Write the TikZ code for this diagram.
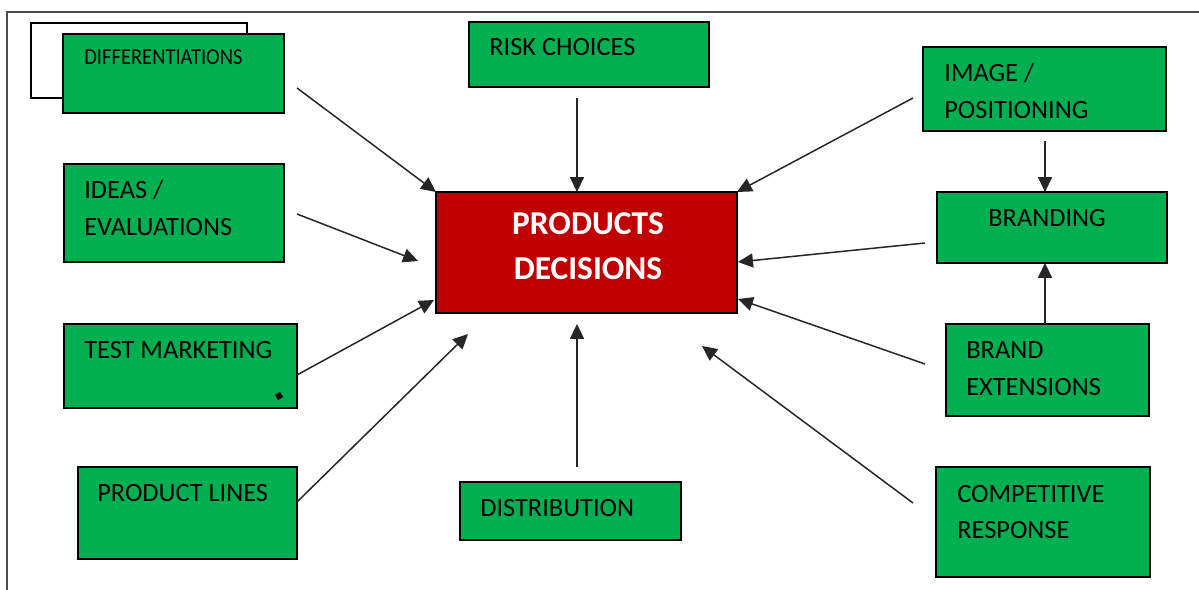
\documentclass[tikz,border=0pt]{standalone}
\usepackage{fontspec}
\setmainfont{Carlito}
\newfontfamily\narrowfont[FakeStretch=0.9]{Carlito}
\usetikzlibrary{arrows.meta}
\definecolor{boxgreen}{RGB}{0,176,80}
\definecolor{boxred}{RGB}{192,0,0}
\tikzset{
    gbox/.style={
        draw=black,
        fill=boxgreen,
        line width=0.8pt,
        inner sep=0pt,
        outer sep=0pt,
        anchor=north west
    },
    wbox/.style={gbox, fill=white},
    rbox/.style={gbox, fill=boxred},
    txt/.style={
        anchor=west,
        inner sep=0pt,
        align=left,
        font=\fontsize{15}{20.8}\selectfont
    },
    arr/.style={
        draw=black!85,
        line width=0.85pt,
        -{Triangle[length=8.5pt,width=8pt]}
    },
    frame/.style={draw=black!70, line width=1.1pt}
}
\begin{document}
\begin{tikzpicture}[x=0.02cm, y=-0.02cm]
    \useasboundingbox (0,0) rectangle (1199,590);
    % draw frame
    \draw[frame] (7,590) -- (7,12) -- (1199,12);
    % draw boxes
    \node[wbox, minimum width=4.32cm, minimum height=1.5cm] (back) at (31,23) {};
    \node[gbox, minimum width=4.42cm, minimum height=1.58cm] (diff) at (63,34) {};
    \node[gbox, minimum width=4.8cm, minimum height=1.3cm] (risk) at (469,22) {};
    \node[gbox, minimum width=4.86cm, minimum height=1.68cm] (image) at (923,47) {};
    \node[gbox, minimum width=4.4cm, minimum height=1.96cm] (ideas) at (64,164) {};
    \node[rbox, minimum width=6.02cm, minimum height=2.42cm] (prod) at (436,192) {};
    \node[gbox, minimum width=4.6cm, minimum height=1.42cm] (brand) at (937,192) {};
    \node[gbox, minimum width=4.66cm, minimum height=1.68cm] (test) at (64,324) {};
    \node[gbox, minimum width=4.06cm, minimum height=1.84cm] (brext) at (946,324) {};
    \node[gbox, minimum width=4.38cm, minimum height=1.84cm] (lines) at (78,467) {};
    \node[gbox, minimum width=4.42cm, minimum height=1.16cm] (dist) at (460,482) {};
    \node[gbox, minimum width=4.28cm, minimum height=2.2cm] (comp) at (936,467) {};
    % stray mark in test marketing box
    \fill[rotate around={30:(279,396)}] (276,393) rectangle (282,399);
    % draw texts
    \node[txt, font=\narrowfont\fontsize{13}{16}\selectfont] (diff-t) at (84,57) {DIFFERENTIATIONS};
    \node[txt] (risk-t) at (489,47) {RISK CHOICES};
    \node[txt] (image-t) at (944,91) {IMAGE /\\POSITIONING};
    \node[txt] (ideas-t) at (84,208) {IDEAS /\\EVALUATIONS};
    \node[txt] (brand-t) at (988,218) {BRANDING};
    \node[txt] (test-t) at (84,350) {TEST MARKETING};
    \node[txt] (brext-t) at (966,368.5) {BRAND\\EXTENSIONS};
    \node[txt] (lines-t) at (97,493) {PRODUCT LINES};
    \node[txt] (dist-t) at (480,508) {DISTRIBUTION};
    \node[txt] (comp-t) at (957,512) {COMPETITIVE\\RESPONSE};
    \node[txt, anchor=center, align=center, text=white,
        font=\bfseries\fontsize{19}{25.6}\selectfont] (prod-t) at (588,246) {PRODUCTS\\DECISIONS};
    % free ends of the arrows
    \coordinate (diff-a) at (297,88);
    \coordinate (ideas-a) at (297,214);
    \coordinate (ideas-b) at (418,261);
    \coordinate (test-a) at (297,375);
    \coordinate (test-b) at (434,300);
    \coordinate (lines-a) at (297,502);
    \coordinate (lines-b) at (468,334);
    \coordinate (risk-a) at (577,98);
    \coordinate (dist-a) at (577,467);
    \coordinate (dist-b) at (577,324);
    \coordinate (image-a) at (913,98);
    \coordinate (brand-a) at (925,243);
    \coordinate (brand-b) at (738,262);
    \coordinate (brext-a) at (925,364);
    \coordinate (brext-b) at (738,299);
    \coordinate (comp-a) at (913,503);
    \coordinate (comp-b) at (702,346);
    \coordinate (image-c) at (1045,141);
    % draw arrows
    \draw[arr] (diff-a) -- (prod.north west);
    \draw[arr] (ideas-a) -- (ideas-b);
    \draw[arr] (test-a) -- (test-b);
    \draw[arr] (lines-a) -- (lines-b);
    \draw[arr] (risk-a) -- (risk-a |- prod.north);
    \draw[arr] (dist-a) -- (dist-b);
    \draw[arr] (image-a) -- (prod.north east);
    \draw[arr] (brand-a) -- (brand-b);
    \draw[arr] (brext-a) -- (brext-b);
    \draw[arr] (comp-a) -- (comp-b);
    \draw[arr] (image-c) -- (image-c |- brand.north);
    \draw[arr] (image-c |- brext.north) -- (image-c |- brand.south);
\end{tikzpicture}
\end{document}
